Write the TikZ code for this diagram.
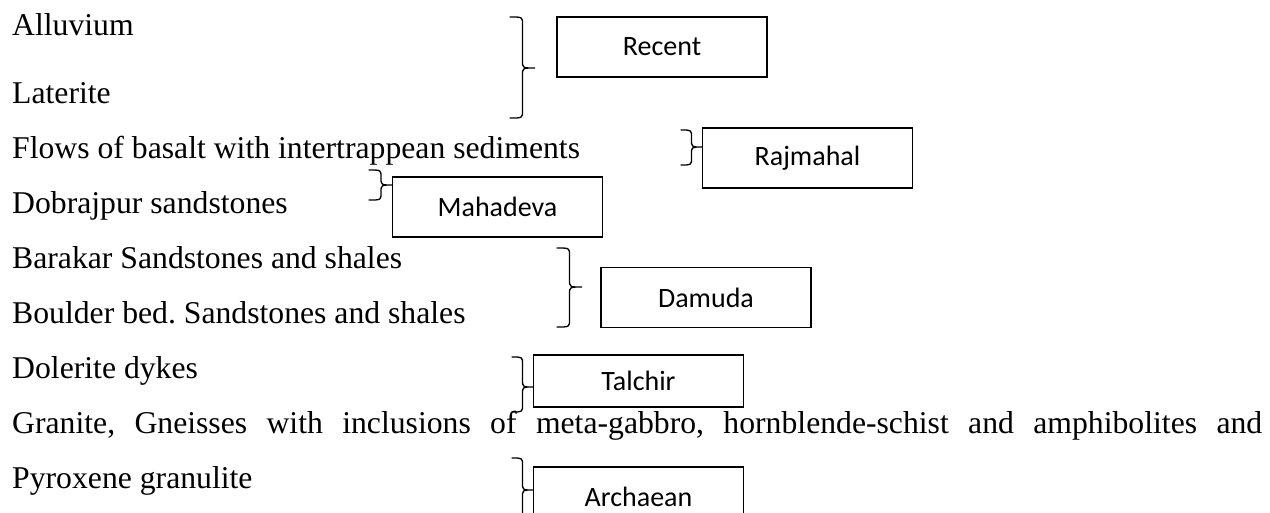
\documentclass[tikz,border=0pt]{standalone}
\usepackage{fontspec}
\setmainfont{Liberation Serif}
\newfontfamily\boxfont{Carlito}
\frenchspacing
\newcommand\rbrc[5]{% xl, xr, top, tip, bottom
  \draw[bracestyle] (#1,#3) .. controls ({(#1+#2)/2},#3) .. ({(#1+#2)/2},{#3+7})
    -- ({(#1+#2)/2},{#4-7}) .. controls ({(#1+#2)/2},#4) .. (#2,#4)
    .. controls ({(#1+#2)/2},#4) .. ({(#1+#2)/2},{#4+7})
    -- ({(#1+#2)/2},{#5-7}) .. controls ({(#1+#2)/2},#5) .. (#1,#5);}
\begin{document}
\begin{tikzpicture}[x=1pt,y=-1pt,
  lbl/.style={anchor=base west,inner sep=0pt,font=\fontsize{31.7}{36}\selectfont},
  agebox/.style={draw,line width=1.6pt,minimum width=210pt,minimum height=60pt,
    inner sep=0pt,font=\boxfont\fontsize{28}{32}\selectfont},
  bracestyle/.style={line width=1.3pt,line cap=round}]
\useasboundingbox (0,0) rectangle (1270,512);
\clip (0,0) rectangle (1270,512);
% left column texts
\node[lbl] (t1) at (12,35) {Alluvium};
\node[lbl] (t2) at (12,103) {Laterite};
\node[lbl] (t3) at (12,158) {Flows of basalt with intertrappean sediments};
\node[lbl] (t4) at (12,213) {Dobrajpur sandstones};
\node[lbl] (t5) at (12,268) {Barakar Sandstones and shales};
\node[lbl] (t6) at (12,323) {Boulder bed. Sandstones and shales};
\node[lbl] (t7) at (12,378) {Dolerite dykes};
\node[lbl] (t8) at (12,433) {\makebox[1250pt][s]{Granite, Gneisses with inclusions of meta-gabbro, hornblende-schist and amphibolites and}};
\node[lbl] (t9) at (12,488) {Pyroxene granulite};
% age boxes
\node[agebox] (recent)   at (662,47)  {Recent};
\node[agebox] (rajmahal) at (807.5,158) {Rajmahal};
\node[agebox] (mahadeva) at (497.5,207) {Mahadeva};
\node[agebox] (damuda)   at (706,297.5) {Damuda};
\node[agebox,minimum height=52pt] (talchir) at (638.5,381) {Talchir};
\node[agebox] (archaean) at (638.5,497) {Archaean};
% braces
\rbrc{510}{535}{17}{68}{118}
\rbrc{681}{702}{130}{147}{165}
\rbrc{369}{393}{170}{185}{200}
\rbrc{557}{582}{248}{287}{327}
\rbrc{512}{533}{357}{387}{412}
\rbrc{512}{533}{458}{490}{530}
\end{tikzpicture}
\end{document}
